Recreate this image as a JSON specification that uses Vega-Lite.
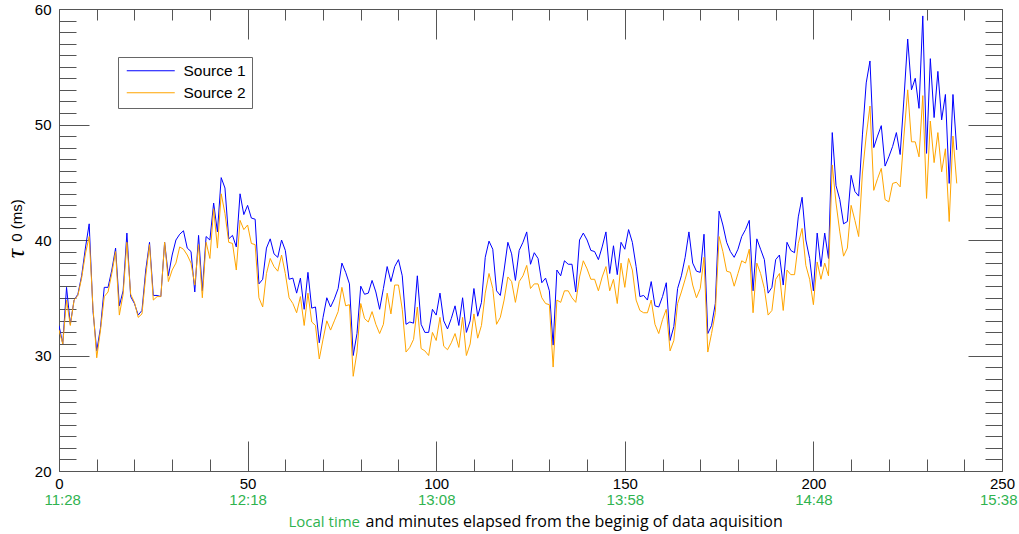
{
  "$schema": "https://vega.github.io/schema/vega-lite/v6.json",
  "width": 943,
  "height": 462,
  "autosize": {"type": "none"},
  "padding": {"left": 59, "top": 9, "right": 17, "bottom": 63},
  "background": "white",
  "config": {
    "view": {"stroke": "#555555", "strokeWidth": 1},
    "axis": {"domain": false, "grid": false, "tickColor": "#555555", "labelFont": "Liberation Sans", "labelFontSize": 15, "labelColor": "black", "labelFlush": false, "labelOverlap": false, "titleFontWeight": "normal", "titleColor": "black"}
  },
  "data": {"values": [
    {"m":0,"Source 1":32.6,"Source 2":32.2},{"m":1,"Source 1":31.0,"Source 2":31.0},{"m":2,"Source 1":35.9,"Source 2":34.8},{"m":3,"Source 1":32.7,"Source 2":32.6},{"m":4,"Source 1":34.8,"Source 2":34.8},
    {"m":5,"Source 1":35.3,"Source 2":35.2},{"m":6,"Source 1":36.9,"Source 2":36.7},{"m":7,"Source 1":39.3,"Source 2":38.8},{"m":8,"Source 1":41.4,"Source 2":40.3},{"m":9,"Source 1":33.9,"Source 2":34.2},
    {"m":10,"Source 1":30.4,"Source 2":29.8},{"m":11,"Source 1":32.4,"Source 2":32.2},{"m":12,"Source 1":35.9,"Source 2":35.1},{"m":13,"Source 1":35.9,"Source 2":35.5},{"m":14,"Source 1":37.4,"Source 2":37.1},
    {"m":15,"Source 1":39.3,"Source 2":39.0},{"m":16,"Source 1":34.3,"Source 2":33.5},{"m":17,"Source 1":35.6,"Source 2":35.3},{"m":18,"Source 1":40.6,"Source 2":39.8},{"m":19,"Source 1":35.1,"Source 2":35.3},
    {"m":20,"Source 1":34.5,"Source 2":34.6},{"m":21,"Source 1":33.5,"Source 2":33.3},{"m":22,"Source 1":33.9,"Source 2":33.6},{"m":23,"Source 1":37.4,"Source 2":36.9},{"m":24,"Source 1":39.8,"Source 2":39.6},
    {"m":25,"Source 1":35.2,"Source 2":34.8},{"m":26,"Source 1":35.2,"Source 2":35.1},{"m":27,"Source 1":35.1,"Source 2":35.1},{"m":28,"Source 1":39.8,"Source 2":39.8},{"m":29,"Source 1":36.9,"Source 2":36.4},
    {"m":30,"Source 1":38.7,"Source 2":37.4},{"m":31,"Source 1":40.0,"Source 2":38.0},{"m":32,"Source 1":40.5,"Source 2":39.4},{"m":33,"Source 1":40.8,"Source 2":39.2},{"m":34,"Source 1":39.3,"Source 2":38.7},
    {"m":35,"Source 1":39.0,"Source 2":38.0},{"m":36,"Source 1":35.5,"Source 2":36.1},{"m":37,"Source 1":40.4,"Source 2":39.6},{"m":38,"Source 1":35.6,"Source 2":35.0},{"m":39,"Source 1":40.3,"Source 2":39.8},
    {"m":40,"Source 1":40.0,"Source 2":38.4},{"m":41,"Source 1":43.2,"Source 2":42.7},{"m":42,"Source 1":40.7,"Source 2":39.3},{"m":43,"Source 1":45.4,"Source 2":44.0},{"m":44,"Source 1":44.5,"Source 2":42.3},
    {"m":45,"Source 1":40.1,"Source 2":39.8},{"m":46,"Source 1":40.4,"Source 2":39.7},{"m":47,"Source 1":39.4,"Source 2":37.4},{"m":48,"Source 1":44.0,"Source 2":41.7},{"m":49,"Source 1":42.2,"Source 2":40.9},
    {"m":50,"Source 1":43.0,"Source 2":41.3},{"m":51,"Source 1":41.9,"Source 2":39.7},{"m":52,"Source 1":41.8,"Source 2":39.6},{"m":53,"Source 1":36.2,"Source 2":35.0},{"m":54,"Source 1":36.6,"Source 2":34.2},
    {"m":55,"Source 1":39.3,"Source 2":37.1},{"m":56,"Source 1":40.1,"Source 2":38.4},{"m":57,"Source 1":38.8,"Source 2":37.7},{"m":58,"Source 1":38.5,"Source 2":37.3},{"m":59,"Source 1":40.0,"Source 2":38.7},
    {"m":60,"Source 1":39.1,"Source 2":37.1},{"m":61,"Source 1":36.6,"Source 2":35.0},{"m":62,"Source 1":36.7,"Source 2":34.5},{"m":63,"Source 1":35.4,"Source 2":33.7},{"m":64,"Source 1":36.7,"Source 2":35.1},
    {"m":65,"Source 1":34.0,"Source 2":32.6},{"m":66,"Source 1":37.2,"Source 2":35.4},{"m":67,"Source 1":34.1,"Source 2":32.9},{"m":68,"Source 1":34.2,"Source 2":32.6},{"m":69,"Source 1":31.1,"Source 2":29.7},
    {"m":70,"Source 1":33.3,"Source 2":31.4},{"m":71,"Source 1":35.0,"Source 2":33.0},{"m":72,"Source 1":34.2,"Source 2":32.2},{"m":73,"Source 1":34.9,"Source 2":33.0},{"m":74,"Source 1":35.8,"Source 2":33.8},
    {"m":75,"Source 1":38.0,"Source 2":35.9},{"m":76,"Source 1":37.2,"Source 2":34.3},{"m":77,"Source 1":36.2,"Source 2":34.4},{"m":78,"Source 1":30.0,"Source 2":28.2},{"m":79,"Source 1":31.9,"Source 2":30.3},
    {"m":80,"Source 1":36.0,"Source 2":34.5},{"m":81,"Source 1":35.3,"Source 2":33.2},{"m":82,"Source 1":35.4,"Source 2":32.9},{"m":83,"Source 1":36.5,"Source 2":33.8},{"m":84,"Source 1":35.5,"Source 2":32.7},
    {"m":85,"Source 1":34.0,"Source 2":31.9},{"m":86,"Source 1":35.8,"Source 2":32.7},{"m":87,"Source 1":37.7,"Source 2":35.4},{"m":88,"Source 1":36.4,"Source 2":33.6},{"m":89,"Source 1":37.7,"Source 2":36.1},
    {"m":90,"Source 1":38.3,"Source 2":36.1},{"m":91,"Source 1":36.9,"Source 2":34.0},{"m":92,"Source 1":32.7,"Source 2":30.3},{"m":93,"Source 1":32.9,"Source 2":30.7},{"m":94,"Source 1":32.8,"Source 2":31.4},
    {"m":95,"Source 1":36.9,"Source 2":34.2},{"m":96,"Source 1":32.7,"Source 2":30.6},{"m":97,"Source 1":32.0,"Source 2":30.4},{"m":98,"Source 1":32.0,"Source 2":30.0},{"m":99,"Source 1":34.0,"Source 2":32.0},
    {"m":100,"Source 1":33.5,"Source 2":31.3},{"m":101,"Source 1":35.4,"Source 2":33.3},{"m":102,"Source 1":33.0,"Source 2":30.8},{"m":103,"Source 1":32.3,"Source 2":30.5},{"m":104,"Source 1":33.2,"Source 2":31.1},
    {"m":105,"Source 1":34.3,"Source 2":31.9},{"m":106,"Source 1":32.6,"Source 2":30.7},{"m":107,"Source 1":35.0,"Source 2":33.3},{"m":108,"Source 1":32.0,"Source 2":30.0},{"m":109,"Source 1":33.0,"Source 2":31.0},
    {"m":110,"Source 1":35.8,"Source 2":33.6},{"m":111,"Source 1":33.4,"Source 2":31.5},{"m":112,"Source 1":34.6,"Source 2":32.6},{"m":113,"Source 1":38.5,"Source 2":35.4},{"m":114,"Source 1":39.9,"Source 2":37.1},
    {"m":115,"Source 1":39.2,"Source 2":35.8},{"m":116,"Source 1":35.6,"Source 2":32.7},{"m":117,"Source 1":35.2,"Source 2":33.3},{"m":118,"Source 1":37.4,"Source 2":34.8},{"m":119,"Source 1":39.8,"Source 2":36.8},
    {"m":120,"Source 1":38.8,"Source 2":36.4},{"m":121,"Source 1":36.5,"Source 2":34.6},{"m":122,"Source 1":39.1,"Source 2":36.4},{"m":123,"Source 1":39.8,"Source 2":36.9},{"m":124,"Source 1":40.7,"Source 2":37.8},
    {"m":125,"Source 1":37.9,"Source 2":35.8},{"m":126,"Source 1":38.9,"Source 2":36.2},{"m":127,"Source 1":38.4,"Source 2":36.2},{"m":128,"Source 1":36.3,"Source 2":35.0},{"m":129,"Source 1":36.7,"Source 2":34.5},
    {"m":130,"Source 1":35.6,"Source 2":34.4},{"m":131,"Source 1":30.9,"Source 2":29.0},{"m":132,"Source 1":37.4,"Source 2":34.8},{"m":133,"Source 1":36.9,"Source 2":34.6},{"m":134,"Source 1":38.2,"Source 2":35.6},
    {"m":135,"Source 1":37.9,"Source 2":35.6},{"m":136,"Source 1":37.9,"Source 2":35.0},{"m":137,"Source 1":35.5,"Source 2":34.6},{"m":138,"Source 1":40.0,"Source 2":36.8},{"m":139,"Source 1":40.6,"Source 2":38.2},
    {"m":140,"Source 1":40.0,"Source 2":37.5},{"m":141,"Source 1":39.1,"Source 2":36.6},{"m":142,"Source 1":39.0,"Source 2":36.6},{"m":143,"Source 1":38.3,"Source 2":35.6},{"m":144,"Source 1":39.4,"Source 2":36.8},
    {"m":145,"Source 1":40.7,"Source 2":37.7},{"m":146,"Source 1":37.1,"Source 2":35.6},{"m":147,"Source 1":39.5,"Source 2":36.6},{"m":148,"Source 1":37.0,"Source 2":34.5},{"m":149,"Source 1":39.8,"Source 2":38.0},
    {"m":150,"Source 1":39.2,"Source 2":35.9},{"m":151,"Source 1":40.9,"Source 2":38.4},{"m":152,"Source 1":39.8,"Source 2":37.4},{"m":153,"Source 1":37.7,"Source 2":34.8},{"m":154,"Source 1":35.1,"Source 2":33.9},
    {"m":155,"Source 1":35.2,"Source 2":33.7},{"m":156,"Source 1":34.8,"Source 2":33.7},{"m":157,"Source 1":36.4,"Source 2":34.8},{"m":158,"Source 1":34.3,"Source 2":32.7},{"m":159,"Source 1":34.2,"Source 2":31.9},
    {"m":160,"Source 1":35.1,"Source 2":33.1},{"m":161,"Source 1":36.3,"Source 2":34.0},{"m":162,"Source 1":31.3,"Source 2":30.4},{"m":163,"Source 1":32.5,"Source 2":31.3},{"m":164,"Source 1":35.8,"Source 2":34.5},
    {"m":165,"Source 1":36.9,"Source 2":35.5},{"m":166,"Source 1":38.5,"Source 2":36.6},{"m":167,"Source 1":40.7,"Source 2":37.8},{"m":168,"Source 1":38.0,"Source 2":36.1},{"m":169,"Source 1":37.3,"Source 2":35.0},
    {"m":170,"Source 1":37.2,"Source 2":35.8},{"m":171,"Source 1":40.5,"Source 2":38.5},{"m":172,"Source 1":31.9,"Source 2":30.3},{"m":173,"Source 1":32.6,"Source 2":31.9},{"m":174,"Source 1":34.5,"Source 2":33.7},
    {"m":175,"Source 1":42.5,"Source 2":40.3},{"m":176,"Source 1":41.3,"Source 2":39.0},{"m":177,"Source 1":39.8,"Source 2":37.3},{"m":178,"Source 1":39.0,"Source 2":37.2},{"m":179,"Source 1":38.5,"Source 2":36.0},
    {"m":180,"Source 1":39.2,"Source 2":37.1},{"m":181,"Source 1":40.3,"Source 2":38.2},{"m":182,"Source 1":40.9,"Source 2":38.0},{"m":183,"Source 1":41.7,"Source 2":39.2},{"m":184,"Source 1":35.6,"Source 2":33.7},
    {"m":185,"Source 1":40.1,"Source 2":38.0},{"m":186,"Source 1":39.2,"Source 2":37.1},{"m":187,"Source 1":38.3,"Source 2":35.8},{"m":188,"Source 1":35.4,"Source 2":33.5},{"m":189,"Source 1":35.9,"Source 2":33.9},
    {"m":190,"Source 1":38.3,"Source 2":36.6},{"m":191,"Source 1":38.7,"Source 2":37.1},{"m":192,"Source 1":36.1,"Source 2":33.9},{"m":193,"Source 1":39.8,"Source 2":37.4},{"m":194,"Source 1":39.1,"Source 2":37.0},
    {"m":195,"Source 1":38.9,"Source 2":37.0},{"m":196,"Source 1":42.0,"Source 2":39.7},{"m":197,"Source 1":43.7,"Source 2":41.0},{"m":198,"Source 1":40.0,"Source 2":37.8},{"m":199,"Source 1":38.4,"Source 2":36.6},
    {"m":200,"Source 1":35.6,"Source 2":34.4},{"m":201,"Source 1":40.6,"Source 2":38.1},{"m":202,"Source 1":37.7,"Source 2":36.6},{"m":203,"Source 1":40.6,"Source 2":38.0},{"m":204,"Source 1":38.4,"Source 2":36.9},
    {"m":205,"Source 1":49.3,"Source 2":46.5},{"m":206,"Source 1":44.7,"Source 2":43.2},{"m":207,"Source 1":43.5,"Source 2":40.7},{"m":208,"Source 1":41.4,"Source 2":38.6},{"m":209,"Source 1":41.6,"Source 2":39.3},
    {"m":210,"Source 1":45.6,"Source 2":43.0},{"m":211,"Source 1":44.2,"Source 2":41.7},{"m":212,"Source 1":43.8,"Source 2":40.3},{"m":213,"Source 1":49.1,"Source 2":45.8},{"m":214,"Source 1":53.6,"Source 2":49.0},
    {"m":215,"Source 1":55.5,"Source 2":51.6},{"m":216,"Source 1":48.0,"Source 2":44.3},{"m":217,"Source 1":49.0,"Source 2":45.3},{"m":218,"Source 1":49.9,"Source 2":46.2},{"m":219,"Source 1":46.4,"Source 2":43.5},
    {"m":220,"Source 1":47.2,"Source 2":43.3},{"m":221,"Source 1":48.1,"Source 2":44.9},{"m":222,"Source 1":49.3,"Source 2":45.0},{"m":223,"Source 1":47.4,"Source 2":44.6},{"m":224,"Source 1":52.2,"Source 2":49.0},
    {"m":225,"Source 1":57.4,"Source 2":53.0},{"m":226,"Source 1":53.0,"Source 2":48.5},{"m":227,"Source 1":54.0,"Source 2":48.5},{"m":228,"Source 1":51.4,"Source 2":47.2},{"m":229,"Source 1":59.4,"Source 2":52.5},
    {"m":230,"Source 1":47.5,"Source 2":43.6},{"m":231,"Source 1":55.7,"Source 2":50.3},{"m":232,"Source 1":50.6,"Source 2":46.7},{"m":233,"Source 1":54.6,"Source 2":49.3},{"m":234,"Source 1":50.4,"Source 2":45.9},
    {"m":235,"Source 1":52.6,"Source 2":47.9},{"m":236,"Source 1":44.9,"Source 2":41.6},{"m":237,"Source 1":52.6,"Source 2":49.0},{"m":238,"Source 1":47.8,"Source 2":44.9}
  ]},
  "transform": [{"fold": ["Source 1", "Source 2"], "as": ["series", "tau"]}],
  "resolve": {"axis": {"x": "independent", "y": "independent"}},
  "layer": [
    {
      "mark": {"type": "line", "strokeWidth": 1, "clip": true},
      "encoding": {
        "x": {"field": "m", "type": "quantitative", "scale": {"domain": [0, 250], "nice": false, "zero": false},
          "axis": {"orient": "bottom", "values": [0, 50, 100, 150, 200, 250], "tickSize": -30, "labelPadding": 35, "labelBaseline": "top",
            "title": "Local time", "titleColor": "#2fb34f", "titleFont": "Open Sans", "titleFontSize": 15, "titleX": 229, "titleY": 50, "titleAlign": "left", "titleBaseline": "middle"}},
        "y": {"field": "tau", "type": "quantitative", "scale": {"domain": [20, 60], "nice": false, "zero": false},
          "axis": {"orient": "left", "values": [20, 30, 40, 50, 60], "tickSize": -30, "labelPadding": 38,
            "title": "τ", "titleFont": "Liberation Serif", "titleFontStyle": "italic", "titleFontSize": 26, "titleAngle": -90, "titleX": -36, "titleY": 244, "titleAlign": "center", "titleBaseline": "alphabetic"}},
        "color": {"field": "series", "type": "nominal",
          "scale": {"domain": ["Source 1", "Source 2"], "range": ["#0000ff", "#ffa500"]},
          "legend": {"title": null, "orient": "none", "legendX": 59, "legendY": 48, "direction": "vertical", "strokeColor": "#666666", "fillColor": "white", "padding": 6,
            "symbolType": "M-4.8,0H4.8", "symbolSize": 100, "symbolOffset": 19, "symbolStrokeWidth": 1, "symbolFillColor": "transparent",
            "labelFont": "Liberation Sans", "labelFontSize": 15.5, "labelOffset": 25, "rowPadding": 5, "labelColor": "black"}}
      }
    },
    {
      "mark": {"type": "point", "opacity": 0, "size": 1},
      "encoding": {
        "x": {"field": "m", "type": "quantitative",
          "axis": {"orient": "bottom", "values": [10, 20, 30, 40, 60, 70, 80, 90, 110, 120, 130, 140, 160, 170, 180, 190, 210, 220, 230, 240], "tickSize": -12, "labels": false,
            "title": "and minutes elapsed from the beginig of data aquisition", "titleFont": "Open Sans", "titleFontSize": 16, "titleX": 306, "titleY": 50, "titleAlign": "left", "titleBaseline": "middle"}},
        "y": {"field": "tau", "type": "quantitative",
          "axis": {"orient": "left", "values": [21, 22, 23, 24, 25, 26, 27, 28, 29, 31, 32, 33, 34, 35, 36, 37, 38, 39, 41, 42, 43, 44, 45, 46, 47, 48, 49, 51, 52, 53, 54, 55, 56, 57, 58, 59], "tickSize": -17, "labels": false,
            "title": "0 (ms)", "titleFont": "Liberation Sans", "titleFontSize": 15, "titleAngle": -90, "titleX": -38, "titleY": 211, "titleAlign": "center", "titleBaseline": "alphabetic"}}
      }
    },
    {
      "mark": {"type": "point", "opacity": 0, "size": 1},
      "encoding": {
        "x": {"field": "m", "type": "quantitative",
          "axis": {"orient": "bottom", "values": [0, 50, 100, 150, 200, 250], "ticks": false, "labelPadding": 21, "labelBaseline": "top", "labelColor": "#2fb34f",
            "labelFlush": true, "labelFlushOffset": 15,
            "labelExpr": "floor((688 + datum.value) / 60) + ':' + pad((688 + datum.value) % 60, 2, '0', 'left')", "title": null}},
        "y": {"field": "tau", "type": "quantitative",
          "axis": {"orient": "right", "values": [20, 30, 40, 50, 60], "tickSize": -34, "labels": false, "title": null}}
      }
    },
    {
      "mark": {"type": "point", "opacity": 0, "size": 1},
      "encoding": {
        "x": {"field": "m", "type": "quantitative",
          "axis": {"orient": "top", "values": [0, 50, 100, 150, 200, 250], "tickSize": -30, "labels": false, "title": null}},
        "y": {"field": "tau", "type": "quantitative",
          "axis": {"orient": "right", "values": [21, 22, 23, 24, 25, 26, 27, 28, 29, 31, 32, 33, 34, 35, 36, 37, 38, 39, 41, 42, 43, 44, 45, 46, 47, 48, 49, 51, 52, 53, 54, 55, 56, 57, 58, 59], "tickSize": -17, "labels": false, "title": null}}
      }
    },
    {
      "mark": {"type": "point", "opacity": 0, "size": 1},
      "encoding": {
        "x": {"field": "m", "type": "quantitative",
          "axis": {"orient": "top", "values": [10, 20, 30, 40, 60, 70, 80, 90, 110, 120, 130, 140, 160, 170, 180, 190, 210, 220, 230, 240], "tickSize": -11, "labels": false, "title": null}},
        "y": {"field": "tau", "type": "quantitative",
          "axis": {"orient": "left", "values": [20, 30, 40, 50, 60], "ticks": false, "labels": false, "title": null}}
      }
    }
  ]
}
